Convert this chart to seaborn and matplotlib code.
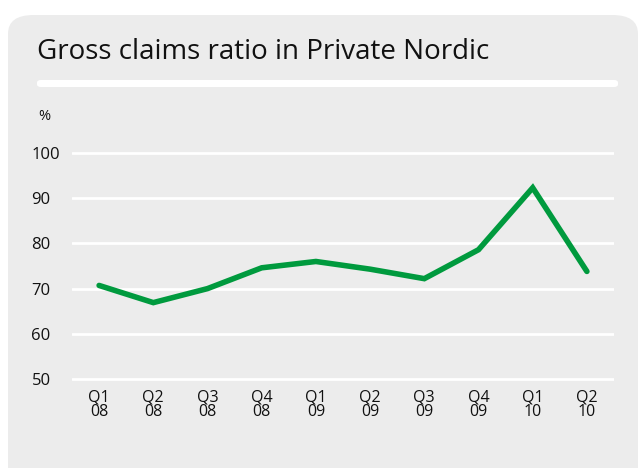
import pandas as pd
import seaborn as sns
import matplotlib.pyplot as plt
from matplotlib.patches import FancyBboxPatch

quarters = ["Q1\n08", "Q2\n08", "Q3\n08", "Q4\n08", "Q1\n09",
            "Q2\n09", "Q3\n09", "Q4\n09", "Q1\n10", "Q2\n10"]
claims_ratio = [70.7, 66.9, 70.0, 74.6, 76.0, 74.3, 72.2, 78.6, 92.3, 73.8]
y_ticks = [50, 60, 70, 80, 90, 100]

df = pd.DataFrame({"pos": range(len(quarters)), "ratio": claims_ratio})

sns.set_style("white")
plt.rcParams['font.family'] = ['Open Sans', 'DejaVu Sans']

fig = plt.figure(figsize=(6.41, 4.68), dpi=100)
fig.patch.set_facecolor("white")

# grey rounded panel behind everything
W, H = 641, 468
panel = FancyBboxPatch((8 / W, -0.1), 630 / W, (468 - 15) / H + 0.1,
                       boxstyle="round,pad=0,rounding_size=0.04",
                       transform=fig.transFigure, facecolor="#ececec",
                       edgecolor="none", zorder=-5)
fig.patches.append(panel)

# white bar under the title
bar = FancyBboxPatch((37 / W, (468 - 87) / H), 581 / W, 7 / H,
                     boxstyle="round,pad=0,rounding_size=0.006",
                     transform=fig.transFigure, facecolor="white",
                     edgecolor="none", zorder=-4)
fig.patches.append(bar)

fig.text(37 / W, (468 - 52) / H, "Gross claims ratio in Private Nordic",
         fontsize=20, va="center", ha="left", color="#111111")
fig.text(38 / W, (468 - 117) / H, "%", fontsize=10.5, va="center", ha="left",
         color="#111111")

ax = fig.add_axes([72 / W, (468 - 381.3) / H, 542 / W, 230.6 / H])
ax.set_facecolor("none")
ax.set_axisbelow(True)

sns.lineplot(data=df, x="pos", y="ratio", ax=ax, color="#009a3e",
             linewidth=4, solid_joinstyle="miter", zorder=3)

ax.set_xlim(-0.5, 9.5)
ax.set_ylim(49.5, 100.5)
ax.set_yticks(y_ticks)
ax.set_xticks(range(len(quarters)))
ax.set_xticklabels(quarters, fontsize=11.5, linespacing=0.85)
ax.tick_params(axis="y", labelsize=12, length=0, pad=4, labelcolor="#111111")
ax.tick_params(axis="x", length=0, pad=6, labelcolor="#111111")
for lab in ax.get_yticklabels():
    lab.set_horizontalalignment("left")
    lab.set_x(-35 / 542)
ax.grid(axis="y", color="white", linewidth=2)
ax.grid(axis="x", visible=False)
for s in ax.spines.values():
    s.set_visible(False)
ax.set_xlabel("")
ax.set_ylabel("")

fig.savefig("out.png", dpi=100)
